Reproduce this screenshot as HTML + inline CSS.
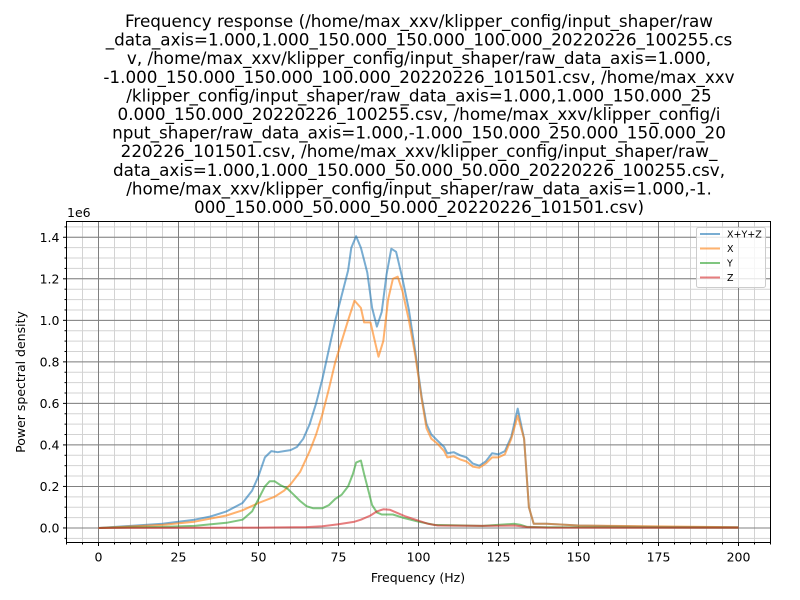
<!DOCTYPE html>
<html><head><meta charset="utf-8"><style>
html,body{margin:0;padding:0;background:#fff;}
svg{display:block;font-family:"DejaVu Sans","Liberation Sans",sans-serif;}
</style></head><body>
<svg id="chart" width="800" height="600" viewBox="0 0 800 600">
<g font-size="16.8" text-anchor="middle" fill="#000">
<text x="419" y="27">Frequency response (/home/max_xxv/klipper_config/input_shaper/raw</text>
<text x="419" y="45.6">_data_axis=1.000,1.000_150.000_150.000_100.000_20220226_100255.cs</text>
<text x="419" y="64.2">v, /home/max_xxv/klipper_config/input_shaper/raw_data_axis=1.000,</text>
<text x="419" y="82.8">-1.000_150.000_150.000_100.000_20220226_101501.csv, /home/max_xxv</text>
<text x="419" y="101.4">/klipper_config/input_shaper/raw_data_axis=1.000,1.000_150.000_25</text>
<text x="419" y="120">0.000_150.000_20220226_100255.csv, /home/max_xxv/klipper_config/i</text>
<text x="419" y="138.6">nput_shaper/raw_data_axis=1.000,-1.000_150.000_250.000_150.000_20</text>
<text x="419" y="157.2">220226_101501.csv, /home/max_xxv/klipper_config/input_shaper/raw_</text>
<text x="419" y="175.8">data_axis=1.000,1.000_150.000_50.000_50.000_20220226_100255.csv,</text>
<text x="419" y="194.4">/home/max_xxv/klipper_config/input_shaper/raw_data_axis=1.000,-1.</text>
<text x="419" y="213">000_150.000_50.000_50.000_20220226_101501.csv)</text>
</g>
<g id="grid"></g>
<g id="series"></g>
<g id="axes"></g>
</svg>
<script>
const xyzF = [0,10,20,30,35,40,45,48,50,52,54,56,58,60,62,64,66,68,70,72,74,76,78,79,80.5,82,84,85.5,87,88.5,90,91.5,93,95,97,99,101,102.5,104,106,108,109,111,113,115,117,119,121,123,125,127,129,131,133,134.5,136,140,150,175,200];
const xyzV = [0,0.01,0.02,0.04,0.055,0.08,0.12,0.18,0.25,0.34,0.37,0.365,0.37,0.375,0.39,0.43,0.5,0.6,0.72,0.86,1.0,1.12,1.24,1.35,1.405,1.35,1.23,1.06,0.97,1.04,1.22,1.345,1.33,1.2,1.05,0.85,0.63,0.5,0.45,0.42,0.39,0.36,0.365,0.35,0.34,0.31,0.3,0.32,0.36,0.355,0.37,0.44,0.575,0.43,0.1,0.02,0.02,0.012,0.005,0.003];
const xF = [0,20,30,40,45,50,55,58,60,63,66,68,70,72,74,76,78,80,82,83,85,86.5,87.5,89,90.5,92,93.5,95,97,99,101,102.5,104,106,108,109,111,113,115,117,119,121,123,125,127,129,131,133,134.5,136,140,150,200];
const xV = [0,0.015,0.03,0.06,0.085,0.12,0.15,0.18,0.21,0.27,0.37,0.45,0.55,0.67,0.8,0.9,1.0,1.095,1.06,0.99,0.99,0.89,0.825,0.9,1.1,1.2,1.21,1.14,1.0,0.83,0.62,0.48,0.43,0.405,0.37,0.34,0.345,0.33,0.32,0.295,0.29,0.31,0.34,0.34,0.355,0.43,0.54,0.43,0.1,0.02,0.02,0.012,0.003];
const yF = [0,20,30,40,45,48,50,52,53.5,55,57,59,61,63,65,67,70,72,74,76,78,79.5,80.5,82,83,84,85.5,87,88.5,92,95,100,105,120,130,132,134,140,200];
const yV = [0,0.005,0.01,0.025,0.04,0.08,0.14,0.2,0.225,0.225,0.205,0.19,0.16,0.13,0.105,0.095,0.095,0.11,0.14,0.16,0.2,0.26,0.315,0.325,0.26,0.2,0.11,0.075,0.065,0.065,0.05,0.03,0.015,0.01,0.02,0.015,0.005,0.003,0.001];
const zF = [0,50,65,70,75,80,82,85,87,89,91,93,96,100,103,106,120,130,132,134,140,200];
const zV = [0,0.002,0.004,0.008,0.018,0.03,0.04,0.06,0.08,0.09,0.088,0.075,0.055,0.035,0.02,0.012,0.01,0.012,0.008,0.004,0.002,0.001];
const xTicks = [0,25,50,75,100,125,150,175,200];
const yTicks = [0,0.2,0.4,0.6,0.8,1.0,1.2,1.4];
const seriesNames = ["X+Y+Z","X","Y","Z"];

const L=66.5,R=770.5,T=221.5,B=542.5;
const X0=-10,X1=210,Y0=-0.07,Y1=1.476;
const sx=v=>L+(v-X0)/(X1-X0)*(R-L);
const sy=v=>B-(v-Y0)/(Y1-Y0)*(B-T);
const NS="http://www.w3.org/2000/svg";
function mk(tag,attrs,parent){const e=document.createElementNS(NS,tag);for(const k in attrs)e.setAttribute(k,attrs[k]);parent.appendChild(e);return e;}
const grid=document.getElementById('grid'),ser=document.getElementById('series'),axes=document.getElementById('axes');
for(let v=-10;v<=210;v+=5){const g=mk('line',{x1:sx(v),x2:sx(v),y1:T,y2:B,stroke:'#d3d3d3','stroke-width':1},grid);

}
for(let i=-1;i<=29;i++){const v=i*0.05;if(sy(v)<T||sy(v)>B)continue;const g=mk('line',{x1:L,x2:R,y1:sy(v),y2:sy(v),stroke:'#d3d3d3','stroke-width':1},grid);

}
xTicks.forEach(v=>{const g=mk('line',{x1:sx(v),x2:sx(v),y1:T,y2:B,stroke:'#808080','stroke-width':1},grid);

});
yTicks.forEach(v=>{const g=mk('line',{x1:L,x2:R,y1:sy(v),y2:sy(v),stroke:'#808080','stroke-width':1},grid);

});
const colors=['rgba(31,119,180,0.6)','rgba(255,127,14,0.6)','rgba(44,160,44,0.6)','rgba(214,39,40,0.6)'];
const data=[[xyzF,xyzV],[xF,xV],[yF,yV],[zF,zV]];
const names=['series-xyz-line','series-x-line','series-y-line','series-z-line'];
data.forEach((d,i)=>{const pts=d[0].map((f,j)=>sx(f).toFixed(1)+','+sy(d[1][j]).toFixed(1)).join(' ');
const p=mk('polyline',{points:pts,fill:'none',stroke:colors[i],'stroke-width':2,'stroke-linejoin':'round'},ser);

});
const fr=mk('rect',{x:L,y:T,width:R-L,height:B-T,fill:'none',stroke:'#000','stroke-width':1},axes);


for(let v=-10;v<=210;v+=5){const major=xTicks.includes(v);mk('line',{x1:sx(v),x2:sx(v),y1:B,y2:B+(major?3.5:2),stroke:'#000'},axes);}
for(let i=-1;i<=29;i++){const v=i*0.05;if(sy(v)<T||sy(v)>B)continue;const major=i%4===0;mk('line',{x1:L,x2:L-(major?3.5:2),y1:sy(v),y2:sy(v),stroke:'#000'},axes);}
xTicks.forEach(v=>{const t=mk('text',{x:sx(v),y:B+19,'font-size':12.5,'text-anchor':'middle'},axes);t.textContent=v;

});
yTicks.forEach(v=>{const t=mk('text',{x:L-7,y:sy(v)+4.5,'font-size':12.5,'text-anchor':'end'},axes);t.textContent=v.toFixed(1);

});
const off=mk('text',{x:67,y:217,'font-size':12.5},axes);off.textContent='1e6';


const xl=mk('text',{x:418,y:582,'font-size':12.5,'text-anchor':'middle'},axes);xl.textContent='Frequency (Hz)';


const yl=mk('text',{x:0,y:0,'font-size':12.5,'text-anchor':'middle',transform:'translate(25,382) rotate(-90)'},axes);yl.textContent='Power spectral density';


const lg=mk('g',{},axes);


mk('rect',{x:696.5,y:227.5,width:69,height:60,rx:2,fill:'rgba(255,255,255,0.8)',stroke:'#ccc'},lg);
seriesNames.forEach((n,i)=>{const y=234+i*14.5;
const ln=mk('line',{x1:700,x2:720,y1:y,y2:y,stroke:colors[i],'stroke-width':2},lg);


const t=mk('text',{x:727,y:y+3.5,'font-size':9.5},lg);t.textContent=n;

});
</script>
</body></html>
